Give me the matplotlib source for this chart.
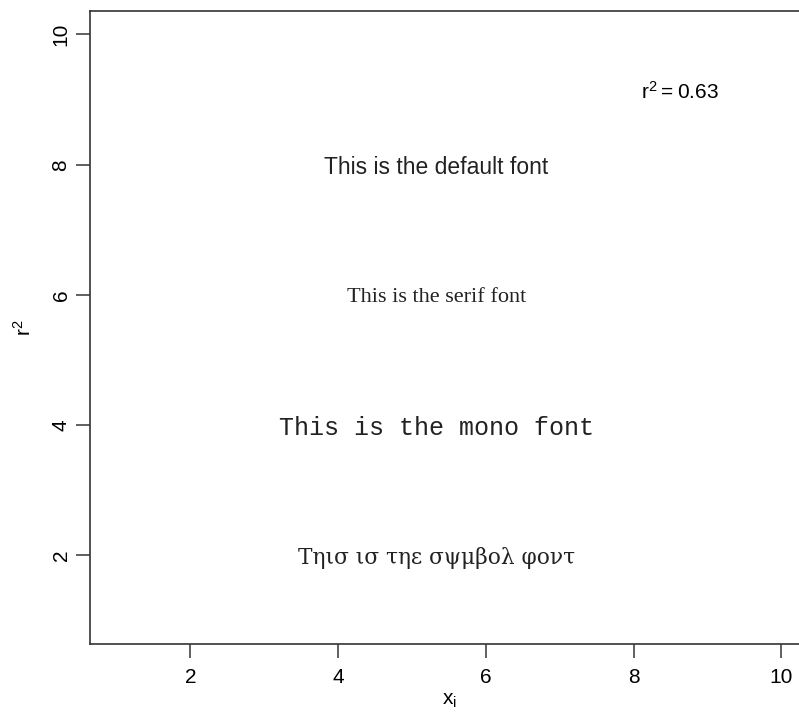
import matplotlib
matplotlib.use("Agg")
import matplotlib.pyplot as plt

# data: label text placed at (x, y) on a 1..10 plot
labels = ["This is the default font", "This is the serif font",
          "This is the mono font", "Τηισ ισ τηε σψμβολ φοντ"]
label_x = [5.33, 5.33, 5.33, 5.33]
label_y = [8, 6, 4, 2]
families = ["Liberation Sans", "Liberation Serif", "Liberation Mono", "DejaVu Serif"]
sizes = [16.5, 16, 18, 15.7]

r2_text = r"$\mathregular{r^2 = 0.63}$"
r2_x, r2_y = 8.63, 9.12

xticks = [2, 4, 6, 8, 10]
yticks = [2, 4, 6, 8, 10]

plt.rcParams["font.family"] = "Liberation Sans"

fig = plt.figure(figsize=(7.99, 7.13), dpi=100)
ax = fig.add_axes([90 / 799, (713 - 644) / 713, (808 - 90) / 799, (644 - 11) / 713])
ax.set_xlim(0.64, 10.36)
ax.set_ylim(0.64, 10.36)

for txt, x, y, fam, s in zip(labels, label_x, label_y, families, sizes):
    ax.text(x, y, txt, family=fam, fontsize=s, ha="center", va="center_baseline",
            color="#222222")

ax.text(r2_x, r2_y, r2_text, fontsize=15, ha="center", va="center")

ax.set_xticks(xticks)
ax.set_yticks(yticks)
ax.tick_params(length=10, width=1.2, color="#444444", labelsize=15)
ax.tick_params(axis="x", pad=7)
ax.tick_params(axis="y", pad=4)
for lab in ax.get_yticklabels():
    lab.set_rotation(90)
    lab.set_va("center")
for sp in ax.spines.values():
    sp.set_color("#333333")
    sp.set_linewidth(1.2)

ax.set_xlabel(r"$\mathregular{x_i}$", fontsize=15, labelpad=3)
ax.set_ylabel(r"$\mathregular{r^2}$", fontsize=15, labelpad=12)

fig.savefig("out.png", dpi=100)
